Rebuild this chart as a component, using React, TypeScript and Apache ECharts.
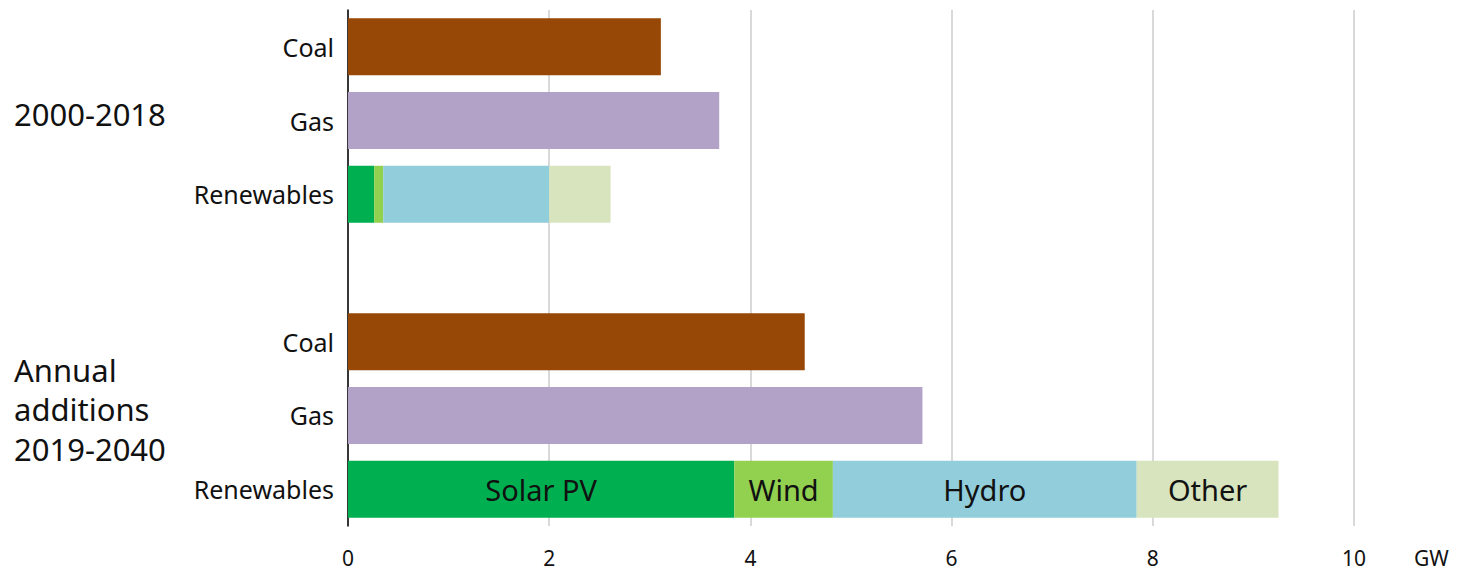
import React, { useEffect, useRef } from "react";
import * as echarts from "echarts";

const categories = ["Coal", "Gas", "Renewables", "", "Coal", "Gas", "Renewables"];
const coal = [3.11, null, null, null, 4.54, null, null];
const gas = [null, 3.69, null, null, null, 5.71, null];
const solar = [null, null, 0.26, null, null, null, 3.84];
const wind = [null, null, 0.09, null, null, null, 0.98];
const hydro = [null, null, 1.65, null, null, null, 3.02];
const other = [null, null, 0.61, null, null, null, 1.41];
const xTicks = [0, 2, 4, 6, 8, 10];
const labelledRow = 6;
const groupLabels = [["2000-2018"], ["Annual", "additions", "2019-2040"]];

const FONT = "'Noto Sans', 'Open Sans', sans-serif";

function toData(arr: (number | null)[], name?: string) {
  return arr.map((v, i) => {
    if (v === null) return "-";
    if (name && i === labelledRow) {
      return {
        value: v,
        label: {
          show: true,
          position: "inside",
          formatter: name,
          color: "#111",
          fontSize: 29,
          fontFamily: FONT,
        },
      };
    }
    return v;
  });
}

export default function App() {
  const ref = useRef<HTMLDivElement>(null);
  useEffect(() => {
    document.body.style.margin = "0";
    const chart = echarts.init(ref.current!, null, { renderer: "svg" });
    const mk = (name: string, data: (number | null)[], color: string, labelName?: string) => ({
      name,
      type: "bar",
      stack: "total",
      barWidth: 57,
      data: toData(data, labelName),
      itemStyle: { color },
    });
    chart.setOption({
      animation: false,
      grid: { left: 348, right: 107, top: 10, bottom: 48, containLabel: false },
      xAxis: {
        type: "value",
        min: 0,
        max: 10,
        interval: 2,
        axisLine: { show: false },
        axisTick: { show: false },
        axisLabel: {
          color: "#111",
          fontSize: 21,
          lineHeight: 22,
          fontFamily: FONT,
          margin: 21,
          formatter: (v: number) => (xTicks.includes(v) ? String(v) : ""),
        },
        splitLine: { show: true, lineStyle: { color: "#d9d9d9", width: 2 } },
      },
      yAxis: {
        type: "category",
        inverse: true,
        data: categories,
        axisLine: { show: true, lineStyle: { color: "#000", width: 1.5 } },
        axisTick: { show: false },
        axisLabel: { color: "#111", fontSize: 25, fontFamily: FONT, margin: 14 },
      },
      graphic: [
        {
          type: "text",
          left: 14,
          top: 94,
          style: { text: groupLabels[0].join("\n"), fontSize: 31, fontFamily: FONT, fill: "#111", lineHeight: 40 },
        },
        {
          type: "text",
          left: 14,
          top: 350,
          style: { text: groupLabels[1].join("\n"), fontSize: 31, fontFamily: FONT, fill: "#111", lineHeight: 39.5 },
        },
        {
          type: "text",
          left: 1414,
          top: 547,
          style: { text: "GW", fontSize: 21, lineHeight: 22, fontFamily: FONT, fill: "#111" },
        },
      ],
      series: [
        mk("Coal", coal, "#974706"),
        mk("Gas", gas, "#B3A2C7"),
        mk("Solar PV", solar, "#00B050", "Solar PV"),
        mk("Wind", wind, "#92D050", "Wind"),
        mk("Hydro", hydro, "#92CDDC", "Hydro"),
        mk("Other", other, "#D7E4BD", "Other"),
      ],
    });
    return () => chart.dispose();
  }, []);
  return <div ref={ref} style={{ width: 1461, height: 574 }} />;
}
